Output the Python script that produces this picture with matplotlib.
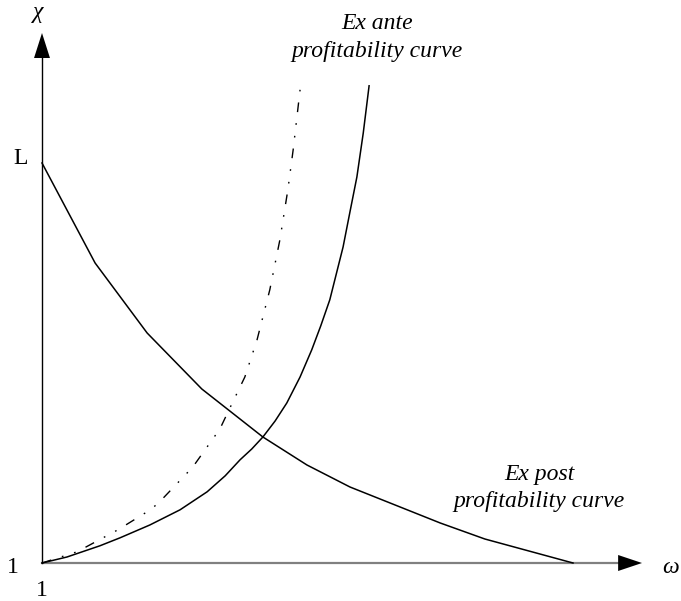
import numpy as np
import matplotlib
matplotlib.use("Agg")
import matplotlib.pyplot as plt

plt.rcParams['font.family'] = ['Liberation Serif', 'DejaVu Serif']

# values (origin = 1, L = 10 on the chi axis)
post_w = [0, 1.0, 1.98, 3.01, 4.16, 4.99, 5.80, 7.50, 8.34, 10.0]
post_x = [10, 7.5, 5.75, 4.35, 3.15, 2.45, 1.9, 1.0, 0.6, 0.0]

ante_w = [0, 0.47, 1.09, 1.47, 2.03, 2.60, 3.11, 3.45, 3.73, 3.95, 4.16, 4.39, 4.61,
          4.86, 5.08, 5.25, 5.42, 5.67, 5.80, 5.93, 6.05, 6.16]
ante_x = [0, 0.15, 0.43, 0.63, 0.95, 1.33, 1.78, 2.18, 2.58, 2.85, 3.15, 3.55, 4.0,
          4.65, 5.33, 5.93, 6.58, 7.9, 8.78, 9.65, 10.75, 11.93]

alt_w = [0, 0.66, 1.43, 1.98, 2.18, 2.84, 3.35, 3.54, 3.82, 4.05, 4.29, 4.48, 4.63, 4.73, 4.86]
alt_x = [0, 0.28, 0.83, 1.28, 1.48, 2.4, 3.35, 3.88, 4.65, 5.58, 6.83, 8.08, 9.33, 10.33, 11.83]

L_val = 10

fig = plt.figure(figsize=(6.81, 6.01), dpi=100)
ax = fig.add_axes([0, 0, 1, 1])
ax.set_xlim(-0.791, 12.034)
ax.set_ylim(-0.95, 14.075)
ax.axis('off')

# axes with arrow heads
x_tip, x_base = 11.30, 10.85
y_tip, y_base = 13.25, 12.625
ax.plot([0, x_base], [0, 0], color='#808080', lw=1.6, zorder=1)
ax.plot([0, 0], [0, y_base], color='black', lw=1.0, zorder=1)
ax.fill([x_base, x_tip, x_base], [-0.2, 0, 0.2], color='black', lw=0)
ax.fill([-0.15, 0, 0.15], [y_base, y_tip, y_base], color='black', lw=0)

# curves
ax.plot(post_w, post_x, color='black', lw=1.1, zorder=3)
ax.plot(ante_w, ante_x, color='black', lw=1.1, zorder=3, solid_joinstyle='round')
ax.plot(alt_w, alt_x, color='black', lw=1.0,
        linestyle=(0, (7, 8, 1.2, 8, 1.2, 8)), zorder=3)

# labels
fs = 17
ax.text(-0.07, 13.75, 'χ', fontsize=fs, style='italic', ha='center', va='center')
ax.text(11.83, -0.12, 'ω', fontsize=fs, style='italic', ha='center', va='center')
ax.text(-0.41, L_val + 0.12, 'L', fontsize=fs, ha='center', va='center')
ax.text(-0.55, -0.12, '1', fontsize=fs, ha='center', va='center')
ax.text(0, -0.68, '1', fontsize=fs, ha='center', va='center')

ax.text(6.31, 13.14, 'Ex ante\nprofitability curve', fontsize=fs, style='italic',
        ha='center', va='center', linespacing=1.4)
ax.text(9.36, 1.875, 'Ex post\nprofitability curve', fontsize=fs, style='italic',
        ha='center', va='center', linespacing=1.4)

fig.savefig('out.png', dpi=100)
